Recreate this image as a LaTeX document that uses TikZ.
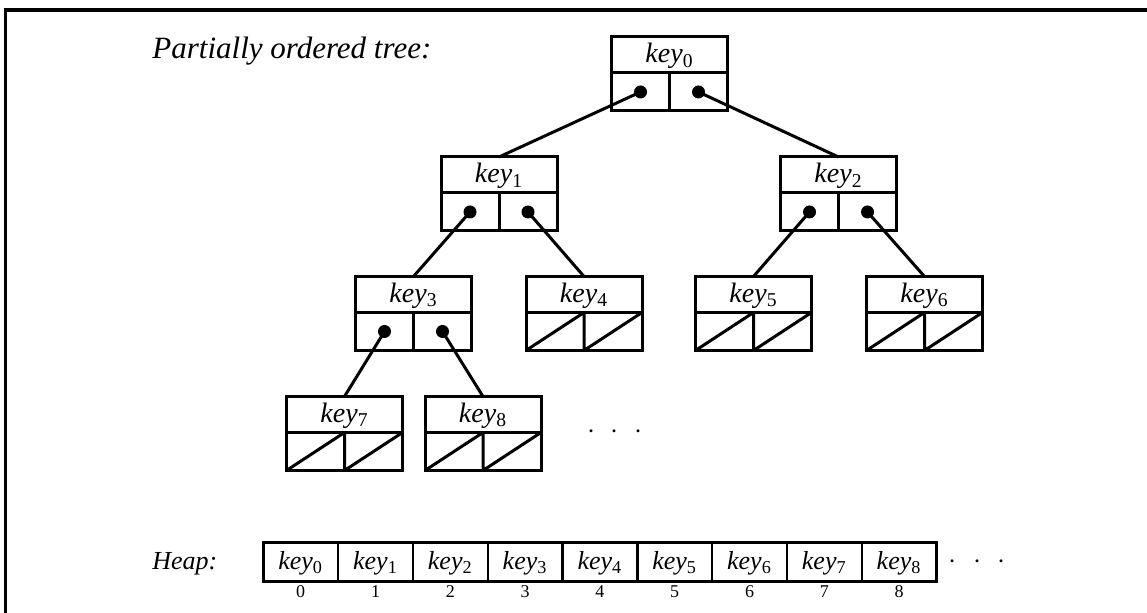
\documentclass[tikz,border=0pt]{standalone}
\usepackage{fontspec}
\setmainfont{Liberation Serif}
\usetikzlibrary{positioning,calc}

\begin{document}
\begin{tikzpicture}[
  x=0.5pt, y=-0.5pt,
  keycell/.style={draw, line width=1.5pt, outer sep=0pt, inner sep=0pt,
                  minimum width=58pt, minimum height=18pt,
                  text height=9.5pt, text depth=1.5pt,
                  font=\fontsize{14}{16}\selectfont},
  ptrrow/.style={draw, line width=1.5pt, outer sep=0pt, inner sep=0pt,
                 minimum width=58pt, minimum height=19pt,
                 path picture={\draw[line width=1.5pt]
                   (path picture bounding box.north) -- (path picture bounding box.south);}},
  nilrow/.style={ptrrow,
                 path picture={\draw[line width=1.5pt]
                   (path picture bounding box.north) -- (path picture bounding box.south)
                   (path picture bounding box.south west) -- (path picture bounding box.north)
                   (path picture bounding box.south) -- (path picture bounding box.north east);}},
  ptrdot/.style={circle, fill, inner sep=0pt, minimum size=6.5pt},
  link/.style={line width=1.5pt},
  heapcell/.style={draw, line width=1.2pt, outer sep=0pt, inner sep=0pt,
                   minimum width=37.4pt, minimum height=19.5pt,
                   text height=9pt, text depth=1pt,
                   font=\fontsize{13}{15}\selectfont},
  idx/.style={font=\fontsize{9}{10}\selectfont, inner sep=0pt},
  ellip/.style={font=\fontsize{14}{16}\selectfont, inner sep=0pt},
  lbl/.style={anchor=base west, inner sep=0pt, font=\itshape},
]
\useasboundingbox (0,0) rectangle (1147,613);

% ---------- frame ----------
\draw[line width=1.6pt] (5.5,613) -- (5.5,10) -- (1147,10);

% ---------- titles ----------
\node[lbl, font=\fontsize{15.5}{18}\selectfont\itshape] (ttree) at (152,58.5)
  {Partially ordered tree:};
\node[lbl, font=\fontsize{13}{15}\selectfont\itshape] (theap) at (152,570) {Heap:};

% ---------- tree: key cells and pointer rows ----------
\node[keycell] (k0) at (669.5,55) {\textit{key}\textsubscript{0}};
\node[ptrrow, below=0pt of k0] (p0) {};
\node[keycell] (k1) at (499,175) {\textit{key}\textsubscript{1}};
\node[ptrrow, below=0pt of k1] (p1) {};
\node[keycell] (k2) at (838.5,175) {\textit{key}\textsubscript{2}};
\node[ptrrow, below=0pt of k2] (p2) {};
\node[keycell] (k3) at (413.5,294.5) {\textit{key}\textsubscript{3}};
\node[ptrrow, below=0pt of k3] (p3) {};
\node[keycell] (k4) at (584,294.5) {\textit{key}\textsubscript{4}};
\node[nilrow, below=0pt of k4] (p4) {};
\node[keycell] (k5) at (753.5,294.5) {\textit{key}\textsubscript{5}};
\node[nilrow, below=0pt of k5] (p5) {};
\node[keycell] (k6) at (924.5,294.5) {\textit{key}\textsubscript{6}};
\node[nilrow, below=0pt of k6] (p6) {};
\node[keycell] (k7) at (344.5,414.5) {\textit{key}\textsubscript{7}};
\node[nilrow, below=0pt of k7] (p7) {};
\node[keycell] (k8) at (483,414.5) {\textit{key}\textsubscript{8}};
\node[nilrow, below=0pt of k8] (p8) {};

\node[ellip] (tmore) at (615,432) {$\cdot\hspace{4.5pt}\cdot\hspace{4.5pt}\cdot$};

% ---------- pointers ----------
\node[ptrdot] (d0a) at ($(p0.west)!0.5!(p0.center)$) {};
\node[ptrdot] (d0b) at ($(p0.center)!0.5!(p0.east)$) {};
\node[ptrdot] (d1a) at ($(p1.west)!0.5!(p1.center)$) {};
\node[ptrdot] (d1b) at ($(p1.center)!0.5!(p1.east)$) {};
\node[ptrdot] (d2a) at ($(p2.west)!0.5!(p2.center)$) {};
\node[ptrdot] (d2b) at ($(p2.center)!0.5!(p2.east)$) {};
\node[ptrdot] (d3a) at ($(p3.west)!0.5!(p3.center)$) {};
\node[ptrdot] (d3b) at ($(p3.center)!0.5!(p3.east)$) {};

\draw[link] (d0a.center) -- (k1.north);
\draw[link] (d0b.center) -- (k2.north);
\draw[link] (d1a.center) -- (k3.north);
\draw[link] (d1b.center) -- (k4.north);
\draw[link] (d2a.center) -- (k5.north);
\draw[link] (d2b.center) -- (k6.north);
\draw[link] (d3a.center) -- (k7.north);
\draw[link] (d3b.center) -- (k8.north);

% ---------- heap array ----------
\node[heapcell] (h0) at (300.7,562) {\textit{key}\textsubscript{0}};
\node[heapcell, right=0pt of h0] (h1) {\textit{key}\textsubscript{1}};
\node[heapcell, right=0pt of h1] (h2) {\textit{key}\textsubscript{2}};
\node[heapcell, right=0pt of h2] (h3) {\textit{key}\textsubscript{3}};
\node[heapcell, right=0pt of h3] (h4) {\textit{key}\textsubscript{4}};
\node[heapcell, right=0pt of h4] (h5) {\textit{key}\textsubscript{5}};
\node[heapcell, right=0pt of h5] (h6) {\textit{key}\textsubscript{6}};
\node[heapcell, right=0pt of h6] (h7) {\textit{key}\textsubscript{7}};
\node[heapcell, right=0pt of h7] (h8) {\textit{key}\textsubscript{8}};
\node[ellip, right=5.7pt of h8] (hmore) {$\cdot\hspace{5.2pt}\cdot\hspace{5.2pt}\cdot$};

\node[idx, below=1.8pt of h0] (i0) {0};
\node[idx, below=1.8pt of h1] (i1) {1};
\node[idx, below=1.8pt of h2] (i2) {2};
\node[idx, below=1.8pt of h3] (i3) {3};
\node[idx, below=1.8pt of h4] (i4) {4};
\node[idx, below=1.8pt of h5] (i5) {5};
\node[idx, below=1.8pt of h6] (i6) {6};
\node[idx, below=1.8pt of h7] (i7) {7};
\node[idx, below=1.8pt of h8] (i8) {8};

\end{tikzpicture}
\end{document}
